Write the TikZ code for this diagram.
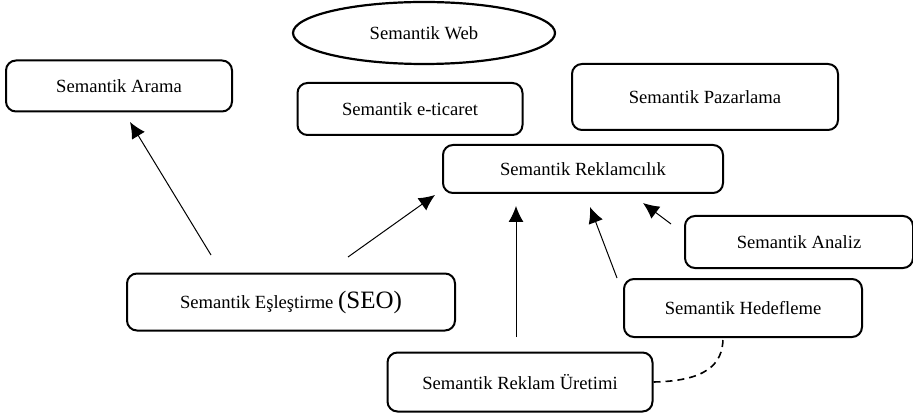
\documentclass[tikz,border=0pt]{standalone}
\usepackage{fontspec}
\setmainfont{Liberation Serif}
\usetikzlibrary{arrows.meta,shapes.geometric}

\tikzset{
    kutu/.style={draw, rectangle, rounded corners=5pt, line width=1pt, align=center, inner sep=0pt},
    ok/.style={-{Latex[length=8pt,width=7.5pt]}, line width=0.5pt}
}

\begin{document}
\begin{tikzpicture}[x=0.5pt, y=-0.5pt, font=\fontsize{9.3}{11}\selectfont]
    \useasboundingbox (0,0) rectangle (913,416);
    % Nodes
    \node [draw, ellipse, line width=1.1pt, minimum width=131pt, minimum height=31pt, inner sep=0pt] (web) at (424,33) {Semantik Web};
    \node [kutu, minimum width=113pt, minimum height=25.5pt] (arama) at (119,86) {Semantik Arama};
    \node [kutu, minimum width=112.5pt, minimum height=26pt] (eticaret) at (410,109) {Semantik e-ticaret};
    \node [kutu, minimum width=133pt, minimum height=33pt] (pazar) at (705,97) {Semantik Pazarlama};
    \node [kutu, minimum width=140pt, minimum height=24pt] (reklam) at (583,169) {Semantik Reklamcılık};
    \node [kutu, minimum width=114pt, minimum height=26pt] (analiz) at (799,242) {Semantik Analiz};
    \node [kutu, minimum width=119pt, minimum height=29pt] (hedef) at (743,308) {Semantik Hedefleme};
    \node [kutu, minimum width=164pt, minimum height=28.5pt] (seo) at (291,302) {Semantik Eşleştirme {\fontsize{12.5}{14}\selectfont(SEO)}};
    \node [kutu, minimum width=132.5pt, minimum height=29.5pt] (uretim) at (520,382) {Semantik Reklam Üretimi};
    % Arrow ends
    \coordinate (seoA) at (211,255);
    \coordinate (aramaA) at (130,122);
    \coordinate (seoB) at (348,257);
    \coordinate (reklamA) at (435,195);
    \coordinate (uretimA) at (516,337);
    \coordinate (reklamB) at (516,206);
    \coordinate (hedefA) at (617,278);
    \coordinate (reklamC) at (590,207);
    \coordinate (analizA) at (671,224);
    \coordinate (reklamD) at (643,203);
    % Arrows
    \draw[ok] (seoA) -- (aramaA);
    \draw[ok] (seoB) -- (reklamA);
    \draw[ok] (uretimA) -- (reklamB);
    \draw[ok] (hedefA) -- (reklamC);
    \draw[ok] (analizA) -- (reklamD);
    \draw[line width=0.8pt, dash pattern=on 3.5pt off 2.5pt] (uretim.east) .. controls (705,381) and (723,365) .. ([xshift=-10pt]hedef.south);
\end{tikzpicture}
\end{document}
